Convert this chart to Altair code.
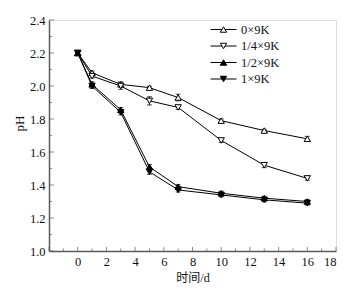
import altair as alt
import pandas as pd

days = [0, 1, 3, 5, 7, 10, 13, 16]
series_names = ["0×9K", "1/4×9K", "1/2×9K", "1×9K"]
open_names = ["0×9K", "1/4×9K"]
filled_names = ["1/2×9K", "1×9K"]
ph_0 = [2.20, 2.08, 2.01, 1.99, 1.93, 1.79, 1.73, 1.68]
ph_q = [2.20, 2.06, 2.00, 1.91, 1.87, 1.67, 1.52, 1.44]
ph_h = [2.20, 2.01, 1.855, 1.51, 1.39, 1.35, 1.32, 1.30]
ph_1 = [2.20, 2.00, 1.84, 1.48, 1.37, 1.34, 1.31, 1.29]
err_0 = [0.005, 0.010, 0.015, 0.008, 0.020, 0.010, 0.008, 0.015]
err_q = [0.005, 0.012, 0.020, 0.025, 0.012, 0.012, 0.015, 0.010]
err_h = [0.010, 0.015, 0.015, 0.015, 0.012, 0.012, 0.012, 0.012]
err_1 = [0.010, 0.015, 0.015, 0.015, 0.012, 0.012, 0.012, 0.012]

x_major = list(range(-2, 19, 2))
x_minor = list(range(-1, 18, 2))
y_major = [1.0, 1.2, 1.4, 1.6, 1.8, 2.0, 2.2, 2.4]
y_minor = [1.1, 1.3, 1.5, 1.7, 1.9, 2.1, 2.3]

rows = []
for name, vals, errs in zip(series_names, [ph_0, ph_q, ph_h, ph_1], [err_0, err_q, err_h, err_1]):
    for d, v, e in zip(days, vals, errs):
        rows.append({"series": name, "series2": name, "day": d, "ph": v, "lo": v - e, "hi": v + e})
df = pd.DataFrame(rows)

SERIF = "'Liberation Serif', 'Noto Sans CJK SC'"
AX = "#5a5a5a"
W, H = 287, 231

xs = alt.Scale(domain=[-2, 18], nice=False, zero=False)
ys = alt.Scale(domain=[1.0, 2.4], nice=False, zero=False)

base = alt.Chart(df)

main_x = alt.Axis(orient="bottom", values=x_major, labelExpr="datum.value == -2 ? '' : datum.label",
                  ticks=False, tickSize=0, domainColor=AX, domainWidth=1.5, grid=False,
                  labelFont=SERIF, labelFontSize=12.5, labelColor="#111", labelPadding=4,
                  title="时间/d", titleFont=SERIF, titleFontSize=12, titleFontWeight="normal",
                  titleColor="#111", titlePadding=5)
main_y = alt.Axis(orient="left", values=y_major, format=".1f", ticks=False, tickSize=0,
                  domainColor=AX, domainWidth=1.5, grid=False, labelFont=SERIF,
                  labelFontSize=12.5, labelColor="#111", labelPadding=4, title="pH",
                  titleFont=SERIF, titleFontSize=13, titleFontWeight="normal",
                  titleColor="#111", titlePadding=3, titleY=103)

axis_layer = base.mark_point(opacity=0).encode(
    x=alt.X("day:Q", scale=xs, axis=main_x),
    y=alt.Y("ph:Q", scale=ys, axis=main_y),
)

def x_ticks(values, length):
    return alt.Chart(pd.DataFrame({"day": values})).mark_tick(
        orient="vertical", size=length, thickness=1, color=AX
    ).encode(
        x=alt.X("day:Q", scale=xs, axis=None),
        y=alt.value(H - length / 2),
    )

def y_ticks(values, length):
    return alt.Chart(pd.DataFrame({"ph": values})).mark_tick(
        orient="horizontal", size=length, thickness=1, color=AX
    ).encode(
        y=alt.Y("ph:Q", scale=ys, axis=None),
        x=alt.value(length / 2),
    )

LX, LY, ROW_PAD = 161, 3, 3.5

line_legend = alt.Legend(orient="none", legendX=LX, legendY=LY, title=None,
                         symbolType="stroke", symbolSize=676, symbolStrokeWidth=1,
                         clipHeight=13, rowPadding=ROW_PAD, labelFont=SERIF, labelFontSize=12.5,
                         labelColor="#111", labelOffset=4, padding=0)
lines = base.mark_line(strokeWidth=1).encode(
    x=alt.X("day:Q", scale=xs, axis=None),
    y=alt.Y("ph:Q", scale=ys, axis=None),
    color=alt.Color("series:N", sort=series_names,
                    scale=alt.Scale(range=["black"] * 4), legend=line_legend),
)

errs = base.mark_errorbar(ticks=True, color="black", thickness=1, size=5).encode(
    x=alt.X("day:Q", scale=xs, axis=None),
    y=alt.Y("lo:Q", scale=ys, axis=None),
    y2="hi:Q",
)

def pt_layer(names, fill, legend_y):
    leg = alt.Legend(orient="none", legendX=LX, legendY=legend_y, title=None,
                     symbolSize=40, symbolStrokeWidth=1, symbolOffset=7.25, clipHeight=13,
                     rowPadding=ROW_PAD, labelFontSize=12.5, labelExpr="''", padding=0)
    return base.transform_filter(
        alt.FieldOneOfPredicate(field="series2", oneOf=names)
    ).mark_point(filled=True, fill=fill, size=40, stroke="black", strokeWidth=1, opacity=1).encode(
        x=alt.X("day:Q", scale=xs, axis=None),
        y=alt.Y("ph:Q", scale=ys, axis=None),
        shape=alt.Shape("series2:N", sort=names,
                        scale=alt.Scale(domain=names, range=["triangle-up", "triangle-down"]),
                        legend=leg),
    )

pts_open = pt_layer(open_names, "white", LY)
pts_filled = pt_layer(filled_names, "black", LY + 2 * (13 + ROW_PAD))

chart = alt.layer(
    axis_layer,
    x_ticks(x_major, 4), x_ticks(x_minor, 2.5),
    y_ticks(y_major, 5), y_ticks(y_minor, 3),
    lines, errs, pts_open, pts_filled,
).resolve_axis(x="independent", y="independent").resolve_scale(
    shape="independent"
).resolve_legend(shape="independent").properties(
    width=W, height=H, autosize="none",
    padding={"left": 41, "top": 12, "right": 19, "bottom": 33},
).configure_view(stroke=None).configure(background="white")

chart.save("out.html", embed_options={"renderer": "svg", "actions": False})
